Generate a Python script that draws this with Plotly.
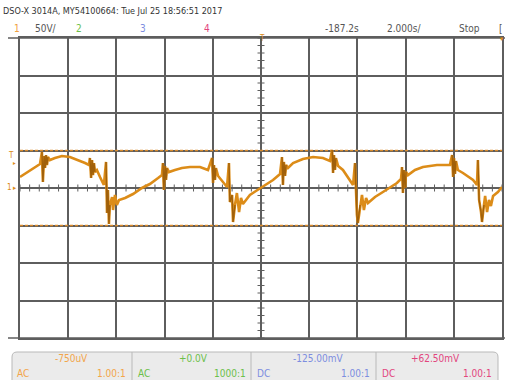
import plotly.graph_objects as go

W, H = 505, 380

# ---- Channel 1 record (time in ms, voltage in mV) ----
# smooth parts of the waveform
smooth_t = [-10.00, -9.59, -9.17,
            -8.76, -8.55, -8.26, -7.93, -7.59, -7.30, -7.14,
            -6.81, -6.68, -6.52,
            -6.18, -6.14, -6.06, -5.98, -5.89, -5.64, -5.31, -4.94, -4.61, -4.27, -4.11,
            -3.82, -3.57, -3.28, -2.95, -2.53, -2.20,
            -1.78, -1.62, -1.41,
            -1.00, -0.91, -0.83, -0.75, -0.46, -0.21, 0.04, 0.29, 0.50, 0.79,
            1.12, 1.33, 1.74, 2.16, 2.57, 2.86,
            3.20, 3.40, 3.69, 3.82,
            4.19, 4.27, 4.36, 4.44, 4.73, 5.06, 5.35, 5.64, 5.81,
            6.10, 6.39, 6.72, 7.30, 7.84,
            8.17, 8.38, 8.80, 8.96,
            9.30, 9.38, 9.46, 9.54, 9.63, 9.83, 10.00]
smooth_v = [14.7, 22.7, 32.0,
            37.3, 40.0, 42.7, 41.3, 37.3, 33.3, 30.7,
            24.0, 14.7, 4.0,
            -12.0, -29.3, -9.3, -22.7, -16.0, -13.3, -8.0, 0.0, 5.3, 13.3, 17.3,
            21.3, 24.0, 26.7, 28.0, 28.0, 24.0,
            16.0, 9.3, 1.3,
            -6.7, -32.0, -13.3, -21.3, -9.3, -4.0, 1.3, 6.7, 10.7, 18.7,
            26.7, 33.3, 38.7, 41.3, 40.0, 36.0,
            29.3, 24.0, 10.7, 4.0,
            -9.3, -29.3, -13.3, -20.0, -12.0, -5.3, 1.3, 6.7, 12.0,
            17.3, 24.0, 28.0, 30.7, 30.7,
            24.0, 20.0, 10.7, 4.0,
            -10.7, -32.0, -16.0, -24.0, -10.7, -5.3, 1.3]

# switching noise bursts and turn-off spikes
burst_t = [[-9.09, -9.05, -9.00, -8.96, -8.92, -8.88, -8.84],
           [-7.10, -7.05, -7.01, -6.97, -6.93, -6.89],
           [-6.43, -6.39, -6.35, -6.31, -6.27],
           [-4.07, -4.03, -3.98, -3.94, -3.90],
           [-2.03, -1.99, -1.95, -1.91, -1.87],
           [-1.33, -1.29, -1.20, -1.16, -1.08],
           [0.87, 0.91, 0.95, 1.00, 1.04],
           [2.95, 2.99, 3.03, 3.07, 3.11],
           [3.90, 3.94, 3.98, 4.02, 4.11],
           [5.85, 5.89, 5.93, 5.98, 6.02],
           [7.93, 7.97, 8.01, 8.05, 8.09],
           [9.00, 9.05, 9.13, 9.17, 9.25]]
burst_v = [[48.0, 8.0, 42.7, 26.7, 44.0, 30.7, 41.3],
           [40.0, 13.3, 37.3, 17.3, 33.3, 21.3],
           [34.7, -33.3, -2.7, -48.0, -22.7],
           [33.3, -2.7, 29.3, 10.7, 26.7],
           [40.0, 6.7, 30.7, 10.7, 26.7],
           [33.3, -18.7, -9.3, -45.3, -22.7],
           [41.3, 4.0, 34.7, 16.0, 30.7],
           [50.7, 20.0, 44.0, 24.0, 40.0],
           [33.3, -16.0, -36.0, -46.7, -22.7],
           [28.0, -6.7, 24.0, 0.0, 21.3],
           [44.0, 14.7, 40.0, 18.7, 36.0],
           [37.3, -16.0, -32.0, -45.3, -22.7]]

cursor_levels = [50.0, -50.0]     # mV, horizontal cursors

# full trace = smooth parts + bursts, in time order
pts = list(zip(smooth_t, smooth_v))
for bt, bv in zip(burst_t, burst_v):
    pts += list(zip(bt, bv))
pts.sort()
all_t = [p[0] for p in pts]
all_v = [p[1] for p in pts]

dark_t, dark_v = [], []
for bt, bv in zip(burst_t, burst_v):
    dark_t += bt + [None]
    dark_v += bv + [None]

ORANGE = "#dc8c18"
GRID = "#5e5e5e"
FONT = "Liberation Sans Narrow, DejaVu Sans Condensed, Roboto, sans-serif"

fig = go.Figure()

# graticule minor ticks on the centre lines
tick_x = [i * 0.4 for i in range(-25, 26)]
tick_y = [i * 10.0 for i in range(-20, 21)]
fig.add_trace(go.Scatter(x=tick_x, y=[0] * len(tick_x), mode="markers",
                         marker=dict(symbol="line-ns", size=5, line=dict(color=GRID, width=1)),
                         hoverinfo="skip", showlegend=False))
fig.add_trace(go.Scatter(x=[0] * len(tick_y), y=tick_y, mode="markers",
                         marker=dict(symbol="line-ew", size=5, line=dict(color=GRID, width=1)),
                         hoverinfo="skip", showlegend=False))

# cursors
for lv in cursor_levels:
    fig.add_trace(go.Scatter(x=[-10, 10], y=[lv, lv], mode="lines",
                             line=dict(color="#d98a2b", width=1.6, dash="3px,2px"),
                             hoverinfo="skip", showlegend=False))

fig.add_trace(go.Scatter(x=all_t, y=all_v, mode="lines",
                         line=dict(color=ORANGE, width=2.6),
                         showlegend=False))
fig.add_trace(go.Scatter(x=dark_t, y=dark_v, mode="lines",
                         line=dict(color="#a0600a", width=1.4),
                         showlegend=False))


def px(x):
    return x / W


def py(y):
    return 1 - y / H


fig.update_layout(
    width=W, height=H,
    margin=dict(l=0, r=0, t=0, b=0),
    paper_bgcolor="white", plot_bgcolor="white",
    xaxis=dict(domain=[px(20), px(502)], range=[-10, 10], dtick=2,
               showgrid=True, gridcolor=GRID, gridwidth=1.5, zeroline=False,
               showticklabels=False, ticks="",
               showline=True, linecolor=GRID, linewidth=1.6, mirror=True),
    yaxis=dict(domain=[py(338), py(38)], range=[-200, 200], dtick=50,
               showgrid=True, gridcolor=GRID, gridwidth=1.5, zeroline=False,
               showticklabels=False, ticks="",
               showline=True, linecolor=GRID, linewidth=1.6, mirror=True),
    font=dict(family=FONT),
)

shapes = []
# extended frame lines
for yy in (38, 338):
    shapes.append(dict(type="line", xref="paper", yref="paper",
                       x0=px(8), x1=px(505), y0=py(yy), y1=py(yy),
                       line=dict(color=GRID, width=1.6)))

# channel info panel with rounded top corners
x0, x1, y0, r = 12, 498, 352, 5
path = (f"M {px(x0)},{py(390)} L {px(x0)},{py(y0 + r)} "
        f"Q {px(x0)},{py(y0)} {px(x0 + r)},{py(y0)} "
        f"L {px(x1 - r)},{py(y0)} Q {px(x1)},{py(y0)} {px(x1)},{py(y0 + r)} "
        f"L {px(x1)},{py(390)} Z")
shapes.append(dict(type="path", xref="paper", yref="paper", path=path,
                   fillcolor="#ebebeb", line=dict(color="#b9b9b9", width=1)))
for xd in (132, 251, 376):
    shapes.append(dict(type="line", xref="paper", yref="paper",
                       x0=px(xd), x1=px(xd), y0=py(352), y1=py(390),
                       line=dict(color="#b9b9b9", width=1)))
fig.update_layout(shapes=shapes)

ann = []


def text(s, x, y, color, size=10, anchor="left"):
    ann.append(dict(text=s, x=px(x), y=py(y), xref="paper", yref="paper",
                    xanchor=anchor, yanchor="middle", showarrow=False,
                    font=dict(size=size, color=color, family=FONT)))


text("DSO-X 3014A, MY54100664: Tue Jul 25 18:56:51 2017", 1, 11, "#333333", 9)
text("1", 12, 28, "#f0a040")
text("50V/", 33, 28, "#555555")
text("2", 74, 28, "#6cbf4a")
text("3", 138, 28, "#7d8de0")
text("4", 202, 28, "#e2457d")
text("-187.2s", 323, 28, "#555555")
text("2.000s/", 385, 28, "#555555")
text("Stop", 457, 28, "#555555")
text("[", 497, 28, "#555555")

# trigger / ground markers
text("T", 262, 39, ORANGE, 8, "center")
text("\u25be", 502, 39, ORANGE, 7, "center")
text("T", 11, 155, ORANGE, 8, "center")
text("\u25b8", 14, 162, ORANGE, 6, "center")
text("1", 9, 187, ORANGE, 8, "center")
text("\u25b8", 15, 188, ORANGE, 7, "center")

# channel panel
text("-750uV", 71, 358, "#f2a54a", 10, "center")
text("+0.0V", 193, 358, "#6cbf4a", 10, "center")
text("-125.00mV", 318, 358, "#7d8de0", 10, "center")
text("+62.50mV", 435, 358, "#e2457d", 10, "center")
text("AC", 15, 373, "#f2a54a")
text("1.00:1", 128, 373, "#f2a54a", 10, "right")
text("AC", 136, 373, "#6cbf4a")
text("1000:1", 248, 373, "#6cbf4a", 10, "right")
text("DC", 255, 373, "#7d8de0")
text("1.00:1", 372, 373, "#7d8de0", 10, "right")
text("DC", 380, 373, "#e2457d")
text("1.00:1", 494, 373, "#e2457d", 10, "right")

fig.update_layout(annotations=ann)

fig.write_html("out.html")
